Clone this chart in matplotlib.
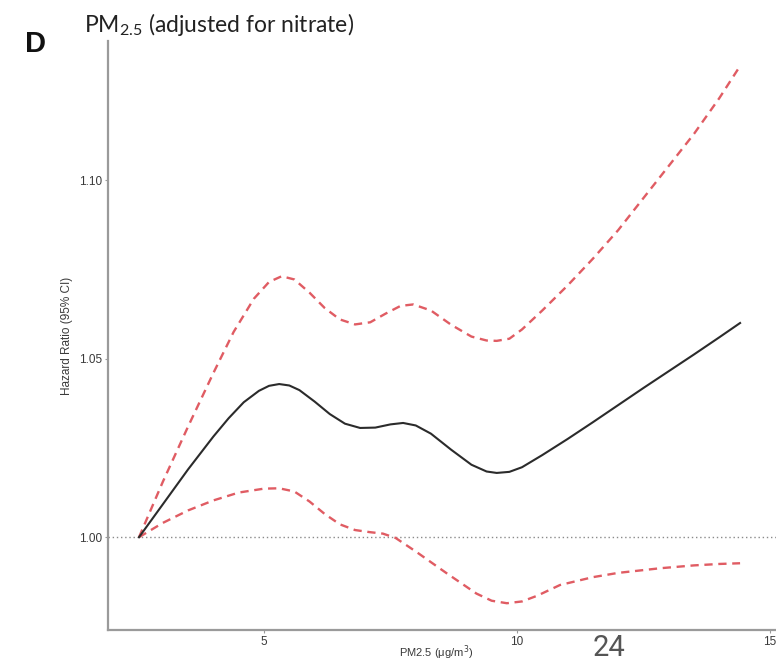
import matplotlib
matplotlib.use("Agg")
import matplotlib.pyplot as plt

# Data
pm25 = [2.53, 3.0, 3.5, 4.0, 4.3, 4.6, 4.9, 5.1, 5.3, 5.5, 5.7, 6.0, 6.3, 6.6, 6.9,
        7.2, 7.5, 7.75, 8.0, 8.3, 8.7, 9.1, 9.4, 9.6, 9.85, 10.1, 10.5, 11.0, 11.5,
        12.0, 12.5, 13.0, 13.5, 14.0, 14.41]
hr = [1.000, 1.0092, 1.0190, 1.0282, 1.0333, 1.0378, 1.0410, 1.0424, 1.0429, 1.0425,
      1.0412, 1.0380, 1.0345, 1.0318, 1.0306, 1.0307, 1.0316, 1.0320, 1.0313, 1.0290,
      1.0245, 1.0203, 1.0184, 1.0180, 1.0183, 1.0196, 1.0230, 1.0275, 1.0322, 1.0370,
      1.0418, 1.0465, 1.0512, 1.0560, 1.0600]

pm25_upper = [2.53, 3.0, 3.5, 4.0, 4.4, 4.8, 5.1, 5.35, 5.6, 5.9, 6.2, 6.5, 6.8,
              7.1, 7.4, 7.7, 7.95, 8.3, 8.7, 9.1, 9.4, 9.6, 9.85, 10.1, 10.5, 11.0,
              11.5, 12.0, 12.5, 13.0, 13.5, 14.0, 14.41]
upper = [1.000, 1.0155, 1.031, 1.046, 1.0575, 1.0668, 1.0715, 1.0731, 1.0722, 1.0685,
         1.0642, 1.0610, 1.0596, 1.0602, 1.0626, 1.0648, 1.0652, 1.0635, 1.0595,
         1.0562, 1.0551, 1.0550, 1.0556, 1.0582, 1.0635, 1.0705, 1.078, 1.086, 1.095,
         1.104, 1.113, 1.123, 1.132]

pm25_lower = [2.53, 3.0, 3.5, 4.0, 4.5, 5.0, 5.3, 5.6, 5.9, 6.2, 6.5, 6.8, 7.1,
              7.35, 7.6, 8.0, 8.6, 9.2, 9.5, 9.8, 10.1, 10.4, 10.85, 11.5, 12.0,
              12.83, 13.5, 14.0, 14.41]
lower = [1.000, 1.0040, 1.0075, 1.0103, 1.0125, 1.0136, 1.0137, 1.0128, 1.0100,
         1.0065, 1.0036, 1.0020, 1.0014, 1.0010, 0.9998, 0.9960, 0.9900, 0.9842,
         0.9822, 0.9815, 0.9820, 0.9836, 0.9866, 0.9888, 0.9900, 0.9913, 0.9921,
         0.9925, 0.9927]

xticks = [5, 10, 15]
yticks = [1.00, 1.05, 1.10]
ytick_labels = ["1.00", "1.05", "1.10"]

W, H = 776, 664
fig = plt.figure(figsize=(W / 100, H / 100), dpi=100)
ax = fig.add_axes([108 / W, (H - 630) / H, (W - 108) / W, (630 - 41) / H])

grey = "#9a9a9a"
red = "#e05c63"

ax.axhline(1.0, color="#8a8a8a", lw=1.0, ls=(0, (1, 2)), zorder=1)
ax.plot(pm25_upper, upper, color=red, lw=1.7, dashes=(3.5, 2.4), zorder=2)
ax.plot(pm25_lower, lower, color=red, lw=1.7, dashes=(3.5, 2.4), zorder=2)
ax.plot(pm25, hr, color="#2b2b2b", lw=1.5, zorder=3)

ax.set_xlim(1.917, 15.12)
ax.set_ylim(0.974, 1.139)
ax.set_xticks(xticks)
ax.set_xticklabels([str(t) for t in xticks])
ax.set_yticks(yticks)
ax.set_yticklabels(ytick_labels)

for s in ["top", "right"]:
    ax.spines[s].set_visible(False)
for s in ["left", "bottom"]:
    ax.spines[s].set_color(grey)
    ax.spines[s].set_linewidth(1.6)

ax.tick_params(axis="both", length=2, width=0.8, color=grey,
               labelsize=8.5, labelcolor="#3a3a3a", pad=2)
for lab in ax.get_xticklabels() + ax.get_yticklabels():
    lab.set_family("Liberation Sans")

ax.set_ylabel("Hazard Ratio (95% CI)", fontsize=8.5, color="#3a3a3a",
              family="Liberation Sans")
ax.yaxis.set_label_coords(-0.052, 0.5)
ax.set_xlabel("PM2.5 ($\\mathregular{\\mu}$g/m$^{3}$)", fontsize=8, color="#3a3a3a",
              family="Liberation Sans")
ax.xaxis.set_label_coords((436 - 108) / (W - 108), -0.022)

fig.text(84 / W, 1 - 25 / H, "PM$_\\mathregular{2.5}$ (adjusted for nitrate)",
         fontsize=16.5, family="Lato", color="#222222", va="center", ha="left")
fig.text(25 / W, 1 - 44 / H, "D", fontsize=21, fontweight="bold",
         family="Liberation Sans", color="#111111", va="center", ha="left")
fig.text(609 / W, 1 - 648 / H, "24", fontsize=21, family="Roboto",
         color="#555555", va="center", ha="center")

fig.savefig("out.png", dpi=100)
